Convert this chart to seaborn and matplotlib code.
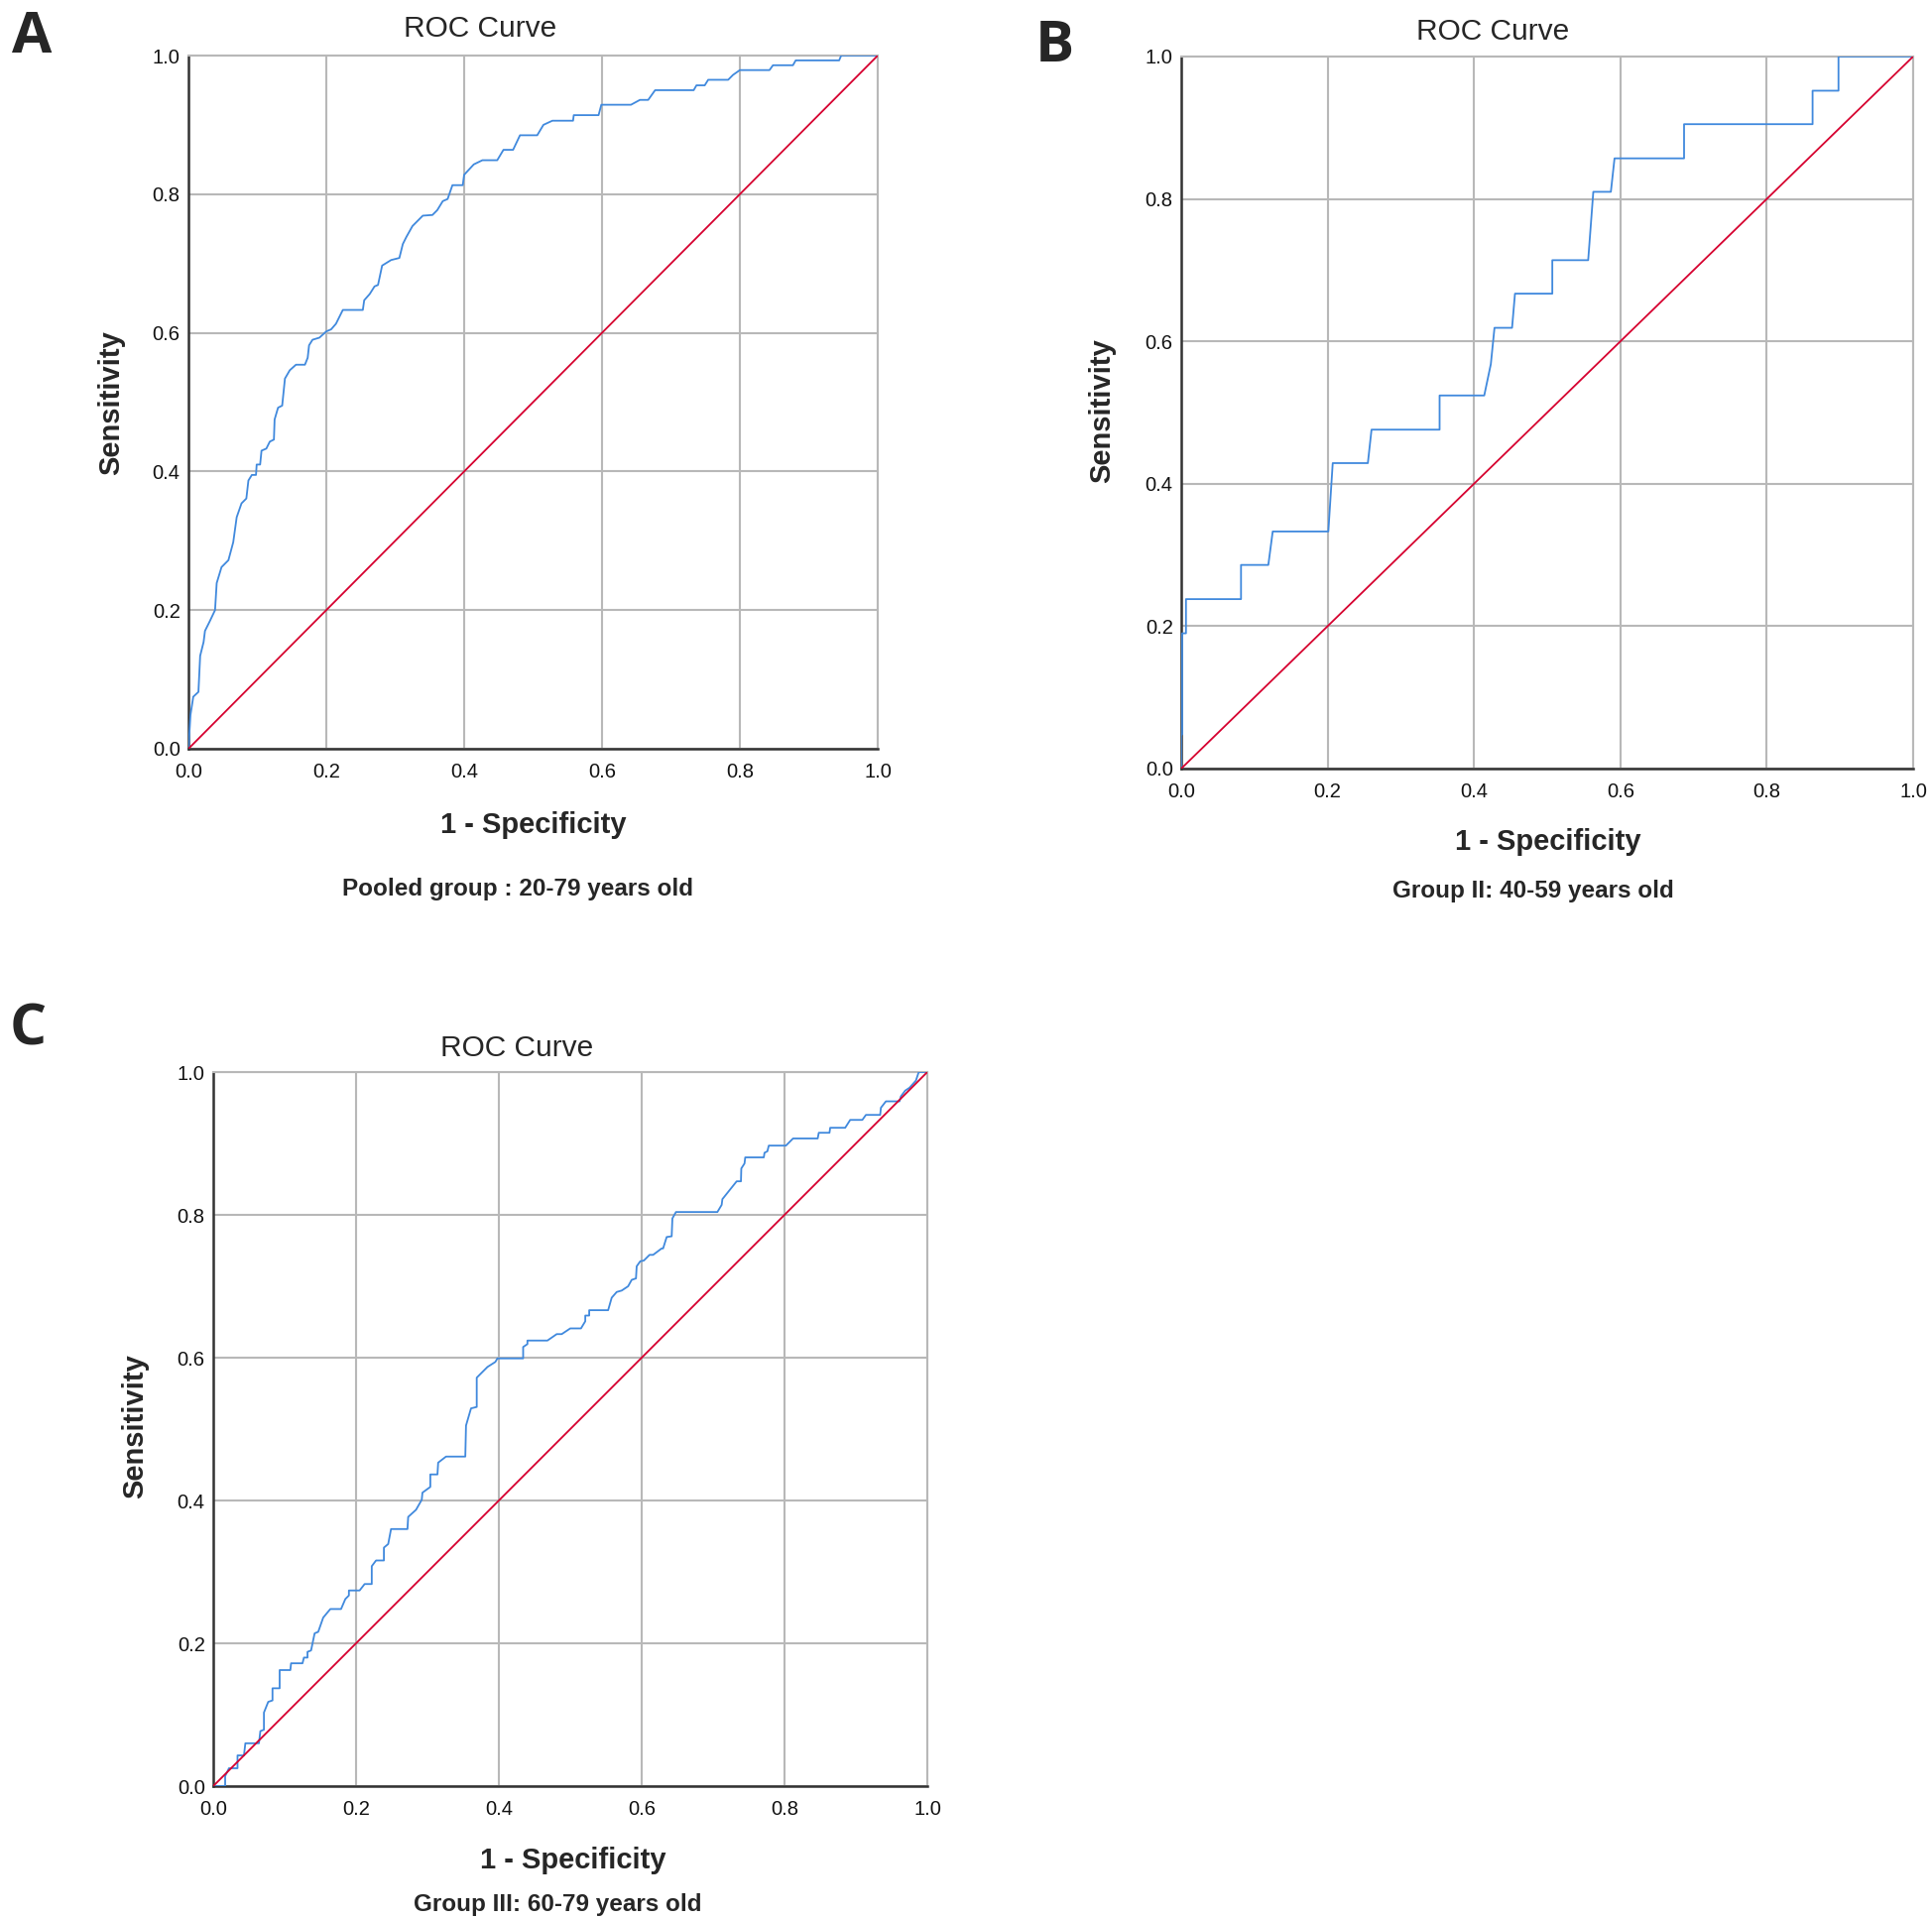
import matplotlib
matplotlib.use('Agg')
import matplotlib.pyplot as plt
import numpy as np
import pandas as pd
import seaborn as sns

# ROC points (1 - specificity, sensitivity)
a_fpr = [0, 0.003, 0.007, 0.0145, 0.017, 0.022, 0.024, 0.031, 0.0386, 0.041, 0.048, 0.058, 0.065, 0.07,
         0.077, 0.084, 0.087, 0.092, 0.098, 0.099, 0.104, 0.106, 0.113, 0.118, 0.124, 0.125, 0.13, 0.136,
         0.14, 0.147, 0.156, 0.169, 0.173, 0.175, 0.18, 0.19, 0.2, 0.207, 0.214, 0.224, 0.253, 0.255,
         0.263, 0.27, 0.275, 0.281, 0.294, 0.306, 0.311, 0.316, 0.325, 0.33, 0.34, 0.354, 0.361, 0.369,
         0.376, 0.383, 0.398, 0.4, 0.414, 0.4265, 0.448, 0.457, 0.471, 0.481, 0.506, 0.515, 0.528, 0.558,
         0.559, 0.595, 0.599, 0.642, 0.655, 0.667, 0.677, 0.733, 0.737, 0.749, 0.754, 0.783, 0.79, 0.8,
         0.843, 0.848, 0.877, 0.881, 0.944, 0.947, 1.0]
a_tpr = [0, 0.049, 0.075, 0.082, 0.134, 0.154, 0.170, 0.184, 0.2, 0.239, 0.262, 0.272, 0.298, 0.334,
         0.354, 0.361, 0.387, 0.395, 0.395, 0.41, 0.41, 0.43, 0.433, 0.443, 0.446, 0.475, 0.492, 0.495,
         0.534, 0.546, 0.554, 0.554, 0.564, 0.582, 0.59, 0.593, 0.602, 0.605, 0.613, 0.633, 0.633, 0.647,
         0.656, 0.667, 0.669, 0.697, 0.705, 0.708, 0.728, 0.738, 0.754, 0.759, 0.769, 0.77, 0.777, 0.79,
         0.793, 0.813, 0.813, 0.828, 0.843, 0.849, 0.849, 0.864, 0.864, 0.885, 0.885, 0.9, 0.906, 0.906,
         0.914, 0.914, 0.929, 0.929, 0.936, 0.936, 0.95, 0.95, 0.957, 0.957, 0.965, 0.965, 0.972, 0.979,
         0.979, 0.986, 0.986, 0.993, 0.993, 1.0, 1.0]

b_fpr = [0, 0, 0.0013, 0.0013, 0.0065, 0.0065, 0.0817, 0.0817, 0.119, 0.125, 0.201, 0.207, 0.255, 0.26,
         0.353, 0.353, 0.414, 0.423, 0.428, 0.452, 0.456, 0.507, 0.507, 0.556, 0.563, 0.587, 0.592, 0.687,
         0.687, 0.8626, 0.8626, 0.898, 0.898, 1.0]
b_tpr = [0, 0.048, 0.048, 0.19, 0.19, 0.238, 0.238, 0.286, 0.286, 0.333, 0.333, 0.429, 0.429, 0.476,
         0.476, 0.524, 0.524, 0.568, 0.619, 0.619, 0.667, 0.667, 0.714, 0.714, 0.81, 0.81, 0.857, 0.857,
         0.905, 0.905, 0.952, 0.952, 1.0, 1.0]

c_fpr = [0, 0.0167, 0.0167, 0.022, 0.034, 0.034, 0.043, 0.045, 0.064, 0.066, 0.071, 0.071, 0.077, 0.083,
         0.083, 0.093, 0.093, 0.108, 0.109, 0.125, 0.127, 0.132, 0.132, 0.137, 0.142, 0.147, 0.154, 0.164,
         0.179, 0.185, 0.19, 0.19, 0.205, 0.212, 0.222, 0.222, 0.228, 0.239, 0.239, 0.245, 0.249, 0.272,
         0.273, 0.284, 0.292, 0.293, 0.304, 0.304, 0.314, 0.315, 0.326, 0.353, 0.354, 0.361, 0.369, 0.369,
         0.384, 0.395, 0.398, 0.434, 0.434, 0.44, 0.44, 0.468, 0.481, 0.488, 0.5, 0.515, 0.521, 0.521,
         0.5265, 0.5265, 0.553, 0.558, 0.565, 0.572, 0.581, 0.586, 0.592, 0.593, 0.598, 0.603, 0.611, 0.616,
         0.628, 0.63, 0.635, 0.642, 0.643, 0.648, 0.706, 0.712, 0.713, 0.733, 0.739, 0.7395, 0.744, 0.745,
         0.771, 0.772, 0.776, 0.778, 0.802, 0.812, 0.8465, 0.848, 0.863, 0.864, 0.885, 0.892, 0.909, 0.914,
         0.934, 0.935, 0.942, 0.961, 0.963, 0.969, 0.975, 0.984, 0.988, 1.0]
c_tpr = [0, 0, 0.014, 0.025, 0.025, 0.043, 0.043, 0.06, 0.06, 0.077, 0.079, 0.103, 0.118, 0.12,
         0.137, 0.137, 0.1625, 0.1625, 0.172, 0.172, 0.18, 0.18, 0.188, 0.19, 0.214, 0.216, 0.236, 0.248,
         0.248, 0.262, 0.267, 0.274, 0.274, 0.283, 0.283, 0.308, 0.316, 0.316, 0.334, 0.339, 0.36, 0.36,
         0.377, 0.387, 0.401, 0.411, 0.419, 0.4365, 0.4365, 0.453, 0.4615, 0.4615, 0.505, 0.529, 0.531, 0.572,
         0.587, 0.594, 0.599, 0.599, 0.615, 0.619, 0.624, 0.624, 0.633, 0.633, 0.641, 0.641, 0.651, 0.659,
         0.659, 0.6665, 0.6665, 0.684, 0.692, 0.694, 0.7, 0.709, 0.711, 0.728, 0.735, 0.736, 0.744, 0.744,
         0.753, 0.753, 0.769, 0.77, 0.795, 0.804, 0.804, 0.814, 0.822, 0.847, 0.847, 0.865, 0.872, 0.8805,
         0.8805, 0.887, 0.889, 0.897, 0.897, 0.907, 0.907, 0.915, 0.915, 0.922, 0.922, 0.933, 0.933, 0.94,
         0.94, 0.95, 0.959, 0.959, 0.966, 0.974, 0.978, 0.988, 1.0, 1.0]

ref_line = [0.0, 1.0]
ticks = [0.0, 0.2, 0.4, 0.6, 0.8, 1.0]
tick_labels = ['0.0', '0.2', '0.4', '0.6', '0.8', '1.0']

W, H = 1948, 1935
BLUE = '#4089dd'
RED = '#d6002f'
GRID = '#b8b8b8'

sns.set_style('whitegrid')
plt.rcParams['font.family'] = ['Liberation Sans', 'DejaVu Sans']

fig = plt.figure(figsize=(W / 100, H / 100), dpi=100)


def box(left, top, right, bottom):
    '''pixel box -> figure fraction rect'''
    return [left / W, 1 - bottom / H, (right - left) / W, (bottom - top) / H]


def put(x, y, s, **kw):
    fig.text(x / W, 1 - y / H, s, ha='center', va='center', **kw)


def draw_roc(ax, fpr, tpr):
    df = pd.DataFrame({'fpr': fpr, 'tpr': tpr})
    sns.lineplot(data=df, x='fpr', y='tpr', ax=ax, color=BLUE, lw=1.3,
                 estimator=None, sort=False, zorder=3)
    sns.lineplot(x=ref_line, y=ref_line, ax=ax, color=RED, lw=1.3,
                 estimator=None, sort=False, zorder=4)
    ax.set_xlim(0, 1)
    ax.set_ylim(0, 1)
    ax.set_xticks(ticks)
    ax.set_xticklabels(tick_labels)
    ax.set_yticks(ticks)
    ax.set_yticklabels(tick_labels)
    ax.grid(True, color=GRID, lw=1.5)
    ax.tick_params(axis='both', length=0, labelsize=14.5, colors='#111111')
    ax.tick_params(axis='x', pad=10)
    ax.tick_params(axis='y', pad=6)
    ax.set_xlabel('')
    ax.set_ylabel('')
    for side in ['left', 'bottom']:
        ax.spines[side].set_color('#333333')
        ax.spines[side].set_linewidth(1.8)
    for side in ['top', 'right']:
        ax.spines[side].set_color(GRID)
        ax.spines[side].set_linewidth(1.5)


panels = [
    # axes box, fpr, tpr, letter pos, title pos, ylabel pos, xlabel pos, subtitle pos, subtitle
    (box(190, 56, 885, 755), a_fpr, a_tpr, (32, 38, 'A'), (484, 29), (112, 406), (538, 832),
     (522, 897, 'Pooled group : 20-79 years old')),
    (box(1191, 57, 1929, 775), b_fpr, b_tpr, (1063, 47, 'B'), (1505, 32), (1111, 414), (1561, 849),
     (1546, 899, 'Group II: 40-59 years old')),
    (box(215, 1081, 935, 1801), c_fpr, c_tpr, (28, 1038, 'C'), (521, 1057), (136, 1438), (578, 1876),
     (562, 1920, 'Group III: 60-79 years old')),
]

for rect, fpr, tpr, letter, title, ylab, xlab, sub in panels:
    ax = fig.add_axes(rect)
    draw_roc(ax, fpr, tpr)
    put(letter[0], letter[1], letter[2], fontsize=42, fontweight='bold',
        family=['Open Sans', 'DejaVu Sans'])
    put(title[0], title[1], 'ROC Curve', fontsize=21.5)
    put(ylab[0], ylab[1], 'Sensitivity', fontsize=21, fontweight='bold', rotation=90)
    put(xlab[0], xlab[1], '1 - Specificity', fontsize=21, fontweight='bold')
    put(sub[0], sub[1], sub[2], fontsize=17.5, fontweight='bold')

fig.savefig('out.png', dpi=100)
